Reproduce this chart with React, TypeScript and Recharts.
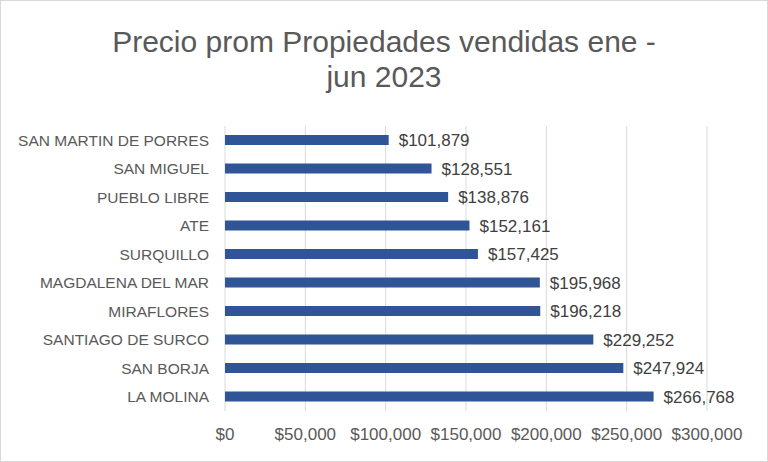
import React from 'react';
import { BarChart, Bar, XAxis, YAxis, CartesianGrid, LabelList } from 'recharts';

const FONT = '"Liberation Sans", Arial, sans-serif';
const BAR_COLOR = '#2F5597';
const TEXT_COLOR = '#595959';
const GRID_COLOR = '#D9D9D9';

const districts = [
  'SAN MARTIN DE PORRES',
  'SAN MIGUEL',
  'PUEBLO LIBRE',
  'ATE',
  'SURQUILLO',
  'MAGDALENA DEL MAR',
  'MIRAFLORES',
  'SANTIAGO DE SURCO',
  'SAN BORJA',
  'LA MOLINA',
];

const avgPrices = [101879, 128551, 138876, 152161, 157425, 195968, 196218, 229252, 247924, 266768];

const xTicks = [0, 50000, 100000, 150000, 200000, 250000, 300000];

const data = districts.map((d, i) => ({ district: d, price: avgPrices[i] }));

const money = (v: number) => `$${v.toLocaleString('en-US')}`;

export default function App() {
  return (
    <div
      style={{
        position: 'fixed', top: 0, left: 0, width: 768, height: 462,
        background: '#fff', fontFamily: FONT, boxSizing: 'border-box',
        border: '1px solid #D9D9D9',
      }}
    >
      <div
        style={{
          position: 'absolute', top: 23, left: 0, width: 766, textAlign: 'center',
          fontSize: 30, lineHeight: '35px', color: TEXT_COLOR,
        }}
      >
        Precio prom Propiedades vendidas ene -<br />jun 2023
      </div>
      <div style={{ position: 'absolute', top: -1, left: -1 }}>
        <BarChart
          width={768}
          height={462}
          data={data}
          layout="vertical"
          margin={{ top: 126, right: 61, bottom: 21, left: 10 }}
          barSize={10}
        >
          <CartesianGrid horizontal={false} stroke={GRID_COLOR} />
          <XAxis
            type="number"
            domain={[0, 300000]}
            ticks={xTicks}
            tickFormatter={money}
            axisLine={false}
            tickLine={false}
            tickMargin={11}
            height={30}
            tick={{ fill: TEXT_COLOR, fontSize: 17, fontFamily: FONT }}
          />
          <YAxis
            type="category"
            dataKey="district"
            width={215}
            axisLine={false}
            tickLine={false}
            tickMargin={10}
            tick={{ fill: TEXT_COLOR, fontSize: 15.5, fontFamily: FONT }}
          />
          <Bar dataKey="price" fill={BAR_COLOR} isAnimationActive={false}>
            <LabelList
              dataKey="price"
              position="right"
              offset={10}
              formatter={(v: number) => money(v)}
              style={{ fill: '#404040', fontSize: 17, fontFamily: FONT }}
            />
          </Bar>
        </BarChart>
      </div>
    </div>
  );
}
